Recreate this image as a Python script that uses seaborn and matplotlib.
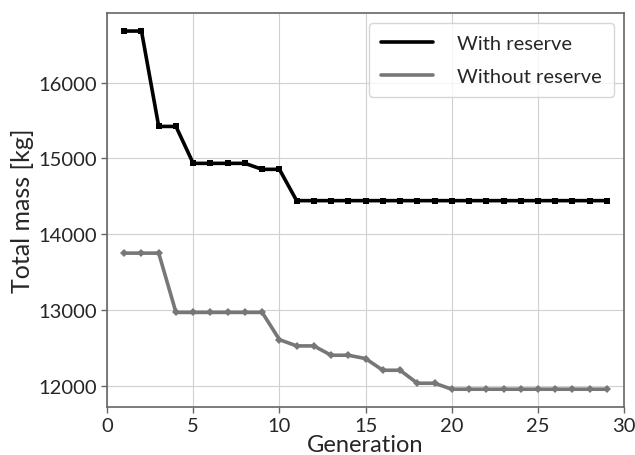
import matplotlib
matplotlib.use("Agg")
import matplotlib.pyplot as plt
import seaborn as sns
import pandas as pd

generations = list(range(1, 30))
with_reserve = [16679, 16679, 15421, 15421, 14934, 14934, 14934, 14934, 14855, 14855,
                14442, 14442, 14442, 14442, 14442, 14442, 14442, 14442, 14442, 14442,
                14442, 14442, 14442, 14442, 14442, 14442, 14442, 14442, 14442]
without_reserve = [13750, 13750, 13750, 12968, 12968, 12968, 12968, 12968, 12968, 12609,
                   12526, 12526, 12403, 12403, 12359, 12205, 12205, 12034, 12034, 11955,
                   11955, 11955, 11955, 11955, 11955, 11955, 11955, 11955, 11955]

df = pd.DataFrame({
    "generation": generations * 2,
    "mass": with_reserve + without_reserve,
    "case": ["With reserve"] * 29 + ["Without reserve"] * 29,
})

sns.set_style("whitegrid", {"axes.edgecolor": "#666666", "grid.color": "#d0d0d0",
                            "xtick.bottom": True, "ytick.left": True})
plt.rcParams["font.family"] = ["Lato", "DejaVu Sans"]

fig = plt.figure(figsize=(6.35, 4.56), dpi=100)
ax = fig.add_axes([0.1685, 0.105, 0.8145, 0.864])

sns.lineplot(data=df, x="generation", y="mass", hue="case", style="case",
             palette={"With reserve": "black", "Without reserve": "#777777"},
             markers={"With reserve": "s", "Without reserve": "D"},
             dashes=False, linewidth=2.6, markersize=4, markeredgewidth=0, ax=ax)

ax.set_xlim(0, 30)
ax.set_xticks([0, 5, 10, 15, 20, 25, 30])
ax.set_yticks([12000, 13000, 14000, 15000, 16000])
ax.tick_params(labelsize=14.5, length=4, width=1, color="#666666", pad=3)
ax.set_xlabel("Generation", fontsize=17, labelpad=0)
ax.set_ylabel("Total mass [kg]", fontsize=18, labelpad=3)
for s in ax.spines.values():
    s.set_linewidth(1.2)

handles, labels = ax.get_legend_handles_labels()
for h in handles:
    h.set_marker("")
ax.legend(handles, labels, loc="upper right", fontsize=14.5, frameon=True,
          handlelength=2.6, borderpad=0.6, labelspacing=0.75, handletextpad=1.2)

fig.savefig("out.png", dpi=100)
